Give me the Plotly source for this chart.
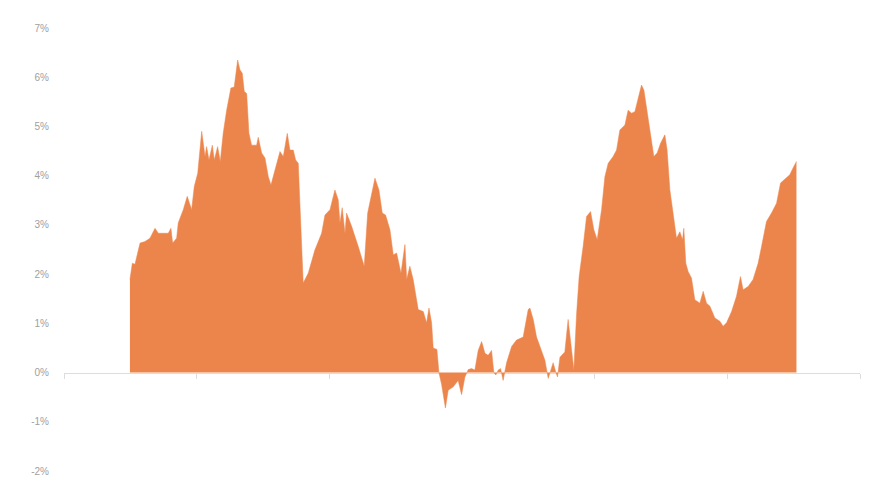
import plotly.graph_objects as go

# position along the time axis (one unit = one tick interval)
x_pos = [0.497, 0.515, 0.535, 0.573, 0.610, 0.648, 0.686, 0.711, 0.786, 0.806,
         0.819, 0.849, 0.861, 0.899, 0.929, 0.962, 0.982, 1.008, 1.038, 1.063,
         1.075, 1.093, 1.118, 1.133, 1.158, 1.178, 1.200, 1.226, 1.258, 1.283,
         1.309, 1.326, 1.344, 1.359, 1.377, 1.394, 1.414, 1.452, 1.464, 1.490,
         1.515, 1.540, 1.560, 1.590, 1.615, 1.628, 1.653, 1.683, 1.703, 1.728,
         1.746, 1.766, 1.778, 1.803, 1.841, 1.891, 1.942, 1.967, 2.005, 2.042,
         2.067, 2.080, 2.097, 2.118, 2.130, 2.168, 2.218, 2.263, 2.289, 2.319,
         2.344, 2.374, 2.399, 2.424, 2.457, 2.482, 2.507, 2.540, 2.570, 2.583,
         2.607, 2.632, 2.670, 2.708, 2.733, 2.751, 2.771, 2.783, 2.811, 2.826,
         2.846, 2.875, 2.896, 2.934, 2.971, 2.997, 3.022, 3.047, 3.072, 3.097,
         3.122, 3.148, 3.173, 3.197, 3.223, 3.240, 3.255, 3.273, 3.291, 3.310,
         3.336, 3.374, 3.411, 3.461, 3.499, 3.512, 3.537, 3.562, 3.600, 3.625,
         3.650, 3.668, 3.687, 3.708, 3.720, 3.738, 3.775, 3.800, 3.826, 3.843,
         3.864, 3.883, 3.913, 3.939, 3.969, 3.994, 4.019, 4.052, 4.077, 4.102,
         4.139, 4.165, 4.190, 4.228, 4.252, 4.278, 4.303, 4.328, 4.353, 4.371,
         4.391, 4.416, 4.446, 4.471, 4.497, 4.529, 4.546, 4.567, 4.592, 4.617,
         4.642, 4.662, 4.672, 4.687, 4.705, 4.730, 4.755, 4.793, 4.818, 4.843,
         4.868, 4.906, 4.944, 4.968, 4.994, 5.032, 5.069, 5.099, 5.119, 5.157,
         5.194, 5.232, 5.258, 5.295, 5.333, 5.371, 5.401, 5.433, 5.471, 5.496,
         5.521]

# return in percent
pct = [1.89, 2.22, 2.20, 2.63, 2.66, 2.73, 2.93, 2.83, 2.83, 2.93,
       2.63, 2.73, 3.04, 3.31, 3.58, 3.31, 3.78, 4.05, 4.90, 4.39,
       4.59, 4.32, 4.62, 4.32, 4.59, 4.29, 4.86, 5.33, 5.78, 5.80,
       6.35, 6.15, 6.08, 5.71, 5.67, 4.86, 4.62, 4.62, 4.78, 4.46,
       4.36, 3.98, 3.81, 4.11, 4.32, 4.49, 4.39, 4.86, 4.52, 4.52,
       4.32, 4.25, 3.45, 1.82, 2.02, 2.49, 2.83, 3.20, 3.31, 3.71,
       3.51, 3.04, 3.35, 2.83, 3.24, 2.97, 2.56, 2.16, 3.24, 3.65,
       3.95, 3.71, 3.24, 3.20, 2.90, 2.39, 2.43, 2.02, 2.60, 1.89,
       2.16, 1.89, 1.28, 1.24, 1.01, 1.31, 1.01, 0.50, 0.47, 0.00,
       -0.24, -0.72, -0.36, -0.29, -0.16, -0.45, -0.09, 0.06, 0.08, 0.05,
       0.45, 0.63, 0.39, 0.35, 0.45, 0.00, -0.05, 0.05, 0.08, -0.16,
       0.20, 0.53, 0.66, 0.72, 1.28, 1.31, 1.08, 0.72, 0.45, 0.25,
       -0.12, 0.05, 0.20, 0.00, -0.09, 0.31, 0.42, 1.08, 0.42, 0.05,
       1.20, 1.95, 2.56, 3.17, 3.27, 2.90, 2.70, 3.31, 3.98, 4.25,
       4.39, 4.52, 4.93, 5.03, 5.33, 5.27, 5.30, 5.57, 5.84, 5.74,
       5.37, 4.93, 4.39, 4.46, 4.66, 4.83, 4.52, 3.71, 3.17, 2.73,
       2.86, 2.70, 2.93, 2.22, 2.05, 1.92, 1.48, 1.41, 1.65, 1.41,
       1.35, 1.11, 1.04, 0.94, 1.01, 1.24, 1.55, 1.95, 1.68, 1.75,
       1.89, 2.22, 2.56, 3.07, 3.24, 3.44, 3.85, 3.92, 4.02, 4.16,
       4.29]

y_ticks = [-2, -1, 0, 1, 2, 3, 4, 5, 6, 7]
y_labels = ["-2%", "-1%", "0%", "1%", "2%", "3%", "4%", "5%", "6%", "7%"]

orange = "#EC854B"

fig = go.Figure()
fig.add_trace(go.Scatter(x=x_pos, y=pct, mode="lines", fill="tozeroy",
                         fillcolor=orange, line=dict(color=orange, width=0.5),
                         hoverinfo="skip", showlegend=False))

# page body keeps an 8px margin, so the figure margins are reduced by that
fig.update_layout(
    margin=dict(l=56, r=10, t=20, b=9, autoexpand=False),
    paper_bgcolor="white", plot_bgcolor="white",
    font=dict(family="Liberation Sans, Arial, sans-serif", size=10, color="#999999"),
    xaxis=dict(range=[0, 6], tick0=0, dtick=1, showticklabels=False,
               ticks="outside", ticklen=5, tickcolor="#dddddd",
               showline=True, linecolor="#dddddd", linewidth=1,
               showgrid=False, zeroline=False,
               anchor="free", position=2 / 9, layer="below traces"),
    yaxis=dict(range=[-2, 7], tickvals=y_ticks, ticktext=y_labels,
               showgrid=False, zeroline=False, showline=False, automargin=False,
               ticklabelstandoff=14, tickfont=dict(size=10, color="#a0a0a0")),
)

fig.write_html("out.html")
